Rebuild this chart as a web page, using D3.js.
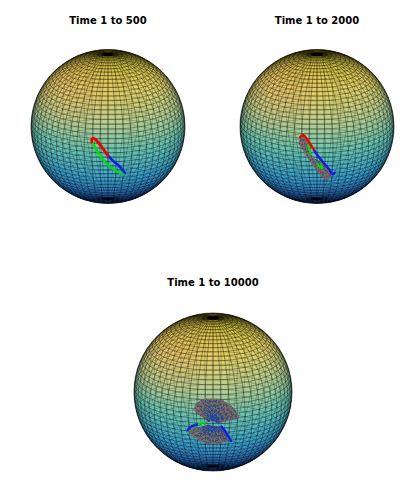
<!DOCTYPE html>
<html>
<head>
<meta charset="utf-8">
<script src="https://cdn.jsdelivr.net/npm/d3@7"></script>
<style>
html, body { margin: 0; padding: 0; background: #fff; }
svg { display: block; }
text { font-family: "DejaVu Sans", sans-serif; font-weight: bold; font-size: 10px; fill: #000; text-anchor: middle; }
</style>
</head>
<body>
<div id="chart"></div>
<script>
// trajectories are [u, v] in the view plane, percent of the sphere radius
var titles = ['Time 1 to 500', 'Time 1 to 2000', 'Time 1 to 10000'];

var heightStops = [-1, -0.72, -0.38, 0, 0.38, 0.72, 1];
var heightColors = ['#20389a', '#2e6cc6', '#3ca2ce', '#66c2b2', '#b6cd90', '#e4d064', '#dcc63e'];

// Time 1 to 500
var loopRed = [[-21,-20],[-21,-17],[-19,-15],[-16,-17],[-10,-24],[-5,-31],[0,-38]];
var loopBlue = [[0,-38],[5,-43],[12,-49],[17,-54],[22,-60]];
var loopGreen = [[20,-62],[13,-59],[5,-54],[-3,-47],[-9,-40],[-14,-32],[-18,-25],[-21,-20]];

// Time 1 to 2000
var bandRimLeft = [[-23,-19],[-23,-23],[-21,-26],[-19,-29],[-17,-32],[-15,-35],[-13,-38],[-11,-41],[-9,-44],[-7,-47],[-5,-50],[-3,-53],[-1,-56],[1,-59],[4,-62],[6,-65],[9,-67],[11,-70]];
var bandHubLeft = [[-18,-12],[-16,-15],[-14,-18],[-12,-22],[-11,-26],[-10,-30],[-9,-34],[-7,-38],[-5,-41],[-3,-44],[-1,-47],[1,-50],[3,-52],[6,-55],[9,-58],[12,-60],[15,-62],[18,-64]];
var bandRimRight = [[0,-49],[3,-47],[6,-44],[8,-46],[11,-49],[13,-52],[16,-55],[18,-58],[20,-61],[18,-64]];
var bandHubRight = [[-3,-42],[-1,-44],[1,-46],[3,-50],[5,-52],[7,-55],[9,-58],[11,-61],[14,-64],[16,-66]];
var bandRed = [[-22,-14],[-18,-11],[-14,-15],[-10,-21],[-6,-27],[-3,-32]];
var bandBlue = [[-3,-32],[1,-38],[6,-44],[11,-50],[16,-56],[21,-62],[23,-60]];
var bandGreen = [[-12,-24],[-10,-30],[-8,-36]];
var bandGreen2 = [[0,-48],[3,-52],[7,-54],[5,-49]];

// Time 1 to 10000
var fanTopRim = [[-23,-24],[-23,-20],[-22,-16],[-20,-14],[-18,-13],[-15,-10],[-13,-10],[-10,-9],[-8,-9],[-5,-9],[-3,-9],[0,-9],[3,-9],[5,-9],[8,-10],[10,-11],[13,-11],[15,-13],[18,-14],[20,-16],[23,-18],[25,-20],[28,-23],[29,-25],[30,-28],[32,-30],[32,-33]];
var fanTopHub = [[-6,-37],[0,-36],[5,-39]];
var fanBottomRim = [[-32,-48],[-30,-51],[-28,-53],[-25,-56],[-23,-57],[-20,-58],[-18,-61],[-15,-62],[-13,-63],[-10,-63],[-8,-65],[-5,-65],[-3,-65],[0,-65],[3,-65],[5,-65],[8,-65],[10,-65],[13,-63],[15,-63],[18,-62],[20,-62],[22,-60],[20,-57],[19,-54],[16,-51],[15,-48],[13,-46]];
var fanBottomHub = [[-12,-44],[-6,-42],[-1,-44],[4,-44],[9,-44]];
var fanBlueLeft = [[-32,-48],[-28,-44],[-22,-42],[-17,-41]];
var fanBlueRight = [[11,-44],[15,-49],[18,-54],[21,-59],[23,-62]];
var fanGreen = [[-18,-41],[-14,-39],[-10,-39]];

var width = 417, height = 487;

var svg = d3.select('#chart').append('svg')
	.attr('width', width)
	.attr('height', height);

var defs = svg.append('defs');

var rim = defs.append('radialGradient').attr('id', 'rimShade');
rim.append('stop').attr('offset', '78%').attr('stop-color', '#000').attr('stop-opacity', 0);
rim.append('stop').attr('offset', '100%').attr('stop-color', '#000').attr('stop-opacity', 0.1);

var warm = defs.append('radialGradient').attr('id', 'warmShade')
	.attr('cx', '24%').attr('cy', '22%').attr('r', '36%');
warm.append('stop').attr('offset', '0%').attr('stop-color', '#f0a868').attr('stop-opacity', 0.35);
warm.append('stop').attr('offset', '100%').attr('stop-color', '#f0a868').attr('stop-opacity', 0);

var heightColor = d3.scaleLinear()
	.domain(heightStops)
	.range(heightColors);

var lon_step = 6,
	lat_step = 3.6;

function drawSphere(g, cx, cy, r, id) {
	var projection = d3.geoOrthographic()
		.rotate([0, -20])
		.scale(r)
		.translate([cx, cy])
		.clipAngle(null);

	defs.append('clipPath').attr('id', id)
		.append('circle').attr('cx', cx).attr('cy', cy).attr('r', r);

	var body = g.append('g').attr('clip-path', 'url(#' + id + ')');
	var front = [], back = [];

	for (var lon = -180; lon < 180; lon = lon + lon_step) {
		for (var lat = -90; lat < 90; lat = lat + lat_step) {
			var corners = [[lon, lat], [lon + lon_step, lat], [lon + lon_step, lat + lat_step], [lon, lat + lat_step]];
			var mid = [lon + lon_step / 2, lat + lat_step / 2];
			var cell = {
				'points': corners.map(function(c) { return projection(c); }).join(' '),
				'z': Math.sin(mid[1] * Math.PI / 180)
			};
			if (d3.geoDistance(mid, [0, 20]) < Math.PI / 2 + 0.06) {
				front.push(cell);
			} else {
				back.push(cell);
			}
		}
	}

	body.append('circle').attr('cx', cx).attr('cy', cy).attr('r', r).style('fill', '#66c2b2');

	body.selectAll('polygon.face').data(front).enter().append('polygon')
		.attr('class', 'face')
		.attr('points', function(d) { return d.points; })
		.style('fill', function(d) { return heightColor(d.z); })
		.style('stroke', function(d) { return heightColor(d.z); })
		.style('stroke-width', 0.3);

	body.append('circle').attr('cx', cx).attr('cy', cy).attr('r', r).style('fill', 'url(#warmShade)');
	body.append('circle').attr('cx', cx).attr('cy', cy).attr('r', r).style('fill', 'url(#rimShade)');

	body.selectAll('polygon.back').data(back).enter().append('polygon')
		.attr('class', 'back')
		.attr('points', function(d) { return d.points; })
		.style('fill', 'none')
		.style('stroke', '#000')
		.style('stroke-opacity', 0.22)
		.style('stroke-width', 0.5);

	body.selectAll('polygon.grid').data(front).enter().append('polygon')
		.attr('class', 'grid')
		.attr('points', function(d) { return d.points; })
		.style('fill', 'none')
		.style('stroke', '#000')
		.style('stroke-opacity', 0.36)
		.style('stroke-width', 0.5);

	g.append('circle').attr('cx', cx).attr('cy', cy).attr('r', r)
		.style('fill', 'none')
		.style('stroke', '#222')
		.style('stroke-width', 0.7);

	var x = d3.scaleLinear().domain([-100, 100]).range([cx - r, cx + r]);
	var y = d3.scaleLinear().domain([-100, 100]).range([cy + r, cy - r]);

	return d3.line()
		.x(function(d) { return x(d[0]); })
		.y(function(d) { return y(d[1]); });
}

function trace(g, line, points, color, w) {
	g.append('path')
		.attr('d', line.curve(d3.curveCatmullRom)(points))
		.style('fill', 'none')
		.style('stroke', color)
		.style('stroke-width', w)
		.style('stroke-linecap', 'round');
}

// zigzag between a rim and a hub, in the three colours of the trajectory
function hatch(g, line, rimPoints, hubPoints, hubLast) {
	line.curve(d3.curveLinear);
	var zig = [];
	for (var i = 0; i < rimPoints.length; i++) {
		zig.push(rimPoints[i]);
		zig.push(hubPoints[i % hubPoints.length]);
	}
	g.append('path')
		.attr('d', line(rimPoints.concat(hubPoints.slice().sort(function(a, b) { return hubLast * (a[0] - b[0]); }))) + 'Z')
		.style('fill', '#7f6a68')
		.style('stroke', '#7f6a68')
		.style('stroke-width', 1);
	var colors = ['#e02020', '#18b028', '#2030d0'];
	for (var k = 0; k < colors.length; k++) {
		g.append('path')
			.attr('d', line(zig))
			.style('fill', 'none')
			.style('stroke', colors[k])
			.style('stroke-width', 1)
			.style('stroke-opacity', 0.8)
			.style('stroke-dasharray', '1.6 3.2')
			.style('stroke-dashoffset', k * 1.6);
	}
}

var g1 = svg.append('g');
var line1 = drawSphere(g1, 108, 126.5, 77, 'clipA');
trace(g1, line1, loopGreen, '#00e000', 2.2);
trace(g1, line1, loopBlue, '#1020e0', 2.6);
trace(g1, line1, loopRed, '#f00000', 2.8);

var g2 = svg.append('g');
var line2 = drawSphere(g2, 317, 126.5, 77, 'clipB');
hatch(g2, line2, bandRimLeft, bandHubLeft, -1);
hatch(g2, line2, bandRimRight, bandHubRight, -1);
trace(g2, line2, bandRed, '#f00000', 2.4);
trace(g2, line2, bandBlue, '#1020e0', 2.4);
trace(g2, line2, bandGreen, '#00e000', 1.8);
trace(g2, line2, bandGreen2, '#00e000', 1.8);

var g3 = svg.append('g');
var line3 = drawSphere(g3, 213, 392, 79, 'clipC');
hatch(g3, line3, fanTopRim, fanTopHub, -1);
hatch(g3, line3, fanBottomRim, fanBottomHub, -1);
trace(g3, line3, fanBlueLeft, '#1020e0', 2.4);
trace(g3, line3, fanBlueRight, '#1020e0', 2.4);
trace(g3, line3, fanGreen, '#00e000', 2);

svg.append('text').attr('x', 108).attr('y', 24).text(titles[0]);
svg.append('text').attr('x', 317).attr('y', 24).text(titles[1]);
svg.append('text').attr('x', 213).attr('y', 286).text(titles[2]);
</script>
</body>
</html>
